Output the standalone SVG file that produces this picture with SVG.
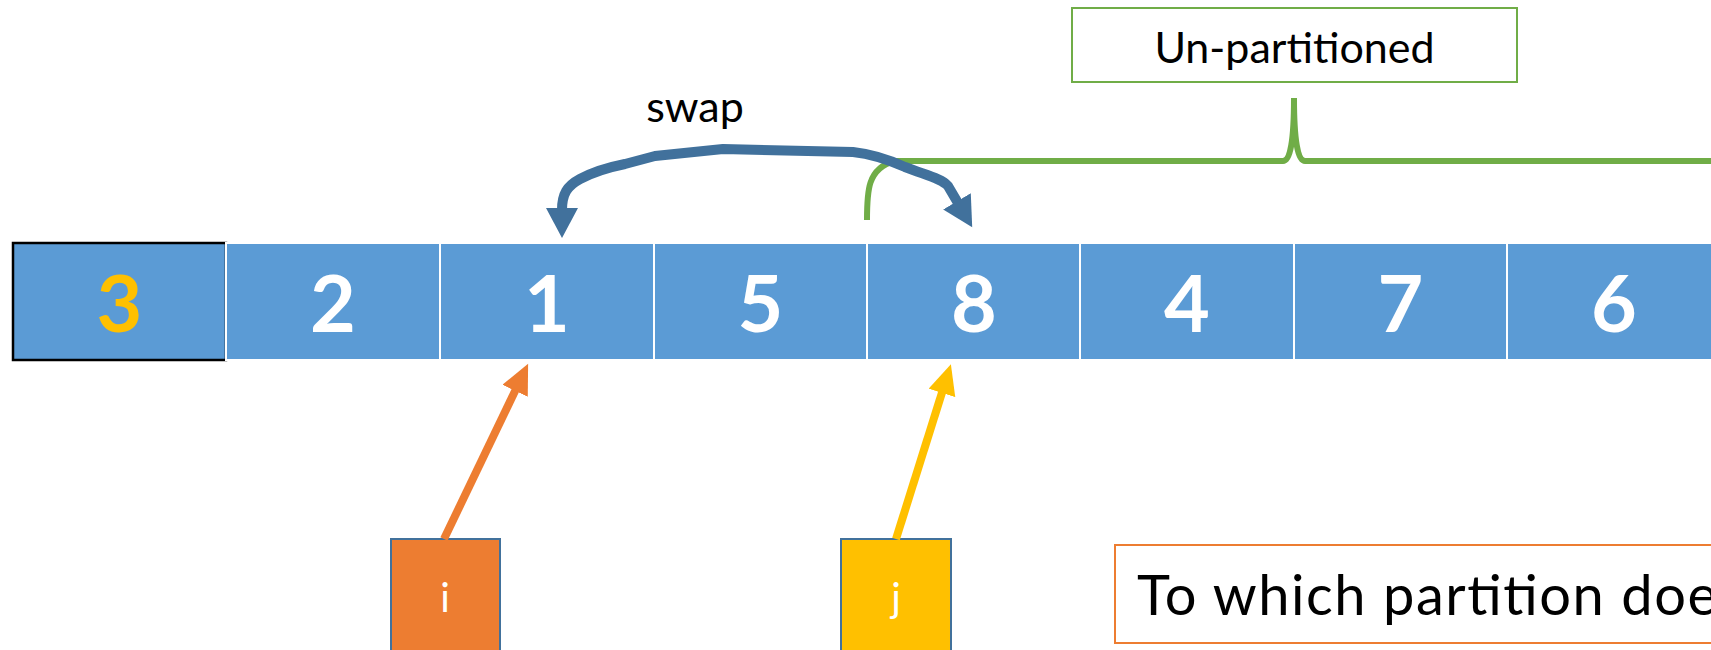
<svg xmlns="http://www.w3.org/2000/svg" width="1711" height="650" viewBox="0 0 1711 650">
<style>
.cell{fill:#5B9BD5;stroke:#FFFFFF;stroke-width:2}
.num{font-family:Lato,"Open Sans","Liberation Sans",sans-serif;font-weight:bold;font-size:79px;fill:#FFFFFF;text-anchor:middle}
.lbl{font-family:Lato,"Liberation Sans",sans-serif;fill:#000000;text-anchor:middle}
.ptr{stroke:#41719C;stroke-width:2}
.ptrtxt{font-family:Lato,"Liberation Sans",sans-serif;font-size:40px;fill:#FFFFFF;text-anchor:middle}
</style>
<defs>
<marker id="headBlue" markerUnits="userSpaceOnUse" markerWidth="32" markerHeight="34" refX="2" refY="16" orient="auto-start-reverse"><path d="M0,0 L30,16 L0,32 z" fill="#41719C"/></marker>
<marker id="headOrange" markerUnits="userSpaceOnUse" markerWidth="32" markerHeight="30" refX="2" refY="14" orient="auto"><path d="M0,0 L30,14 L0,28 z" fill="#ED7D31"/></marker>
<marker id="headYellow" markerUnits="userSpaceOnUse" markerWidth="32" markerHeight="30" refX="2" refY="14" orient="auto"><path d="M0,0 L30,14 L0,28 z" fill="#FFC000"/></marker>
</defs>
<rect width="1711" height="650" fill="#FFFFFF"/>

<g id="array">
<g id="cell-3"><rect x="13" y="243" width="213" height="117" fill="#5B9BD5" stroke="#000000" stroke-width="2.5"/><text class="num" x="119.5" y="332" style="fill:#FFC000">3</text></g>
<g id="cell-2"><rect class="cell" x="226" y="243" width="214" height="117"/><text class="num" x="333" y="332">2</text></g>
<g id="cell-1"><rect class="cell" x="440" y="243" width="214" height="117"/><text class="num" x="547" y="332">1</text></g>
<g id="cell-5"><rect class="cell" x="654" y="243" width="213" height="117"/><text class="num" x="760.5" y="332">5</text></g>
<g id="cell-8"><rect class="cell" x="867" y="243" width="213" height="117"/><text class="num" x="974" y="332">8</text></g>
<g id="cell-4"><rect class="cell" x="1080" y="243" width="214" height="117"/><text class="num" x="1187" y="332">4</text></g>
<g id="cell-7"><rect class="cell" x="1294" y="243" width="213" height="117"/><text class="num" x="1400.5" y="332">7</text></g>
<g id="cell-6"><rect class="cell" x="1507" y="243" width="214" height="117"/><text class="num" x="1614" y="332">6</text></g>
</g>

<g id="unpartitioned-label">
<rect x="1072" y="8" width="445" height="74" fill="#FFFFFF" stroke="#70AD47" stroke-width="2"/>
<text class="lbl" x="1294.5" y="62.5" font-size="43">Un-partitioned</text>
</g>

<g id="swap-label"><text class="lbl" x="695" y="122" font-size="43">swap</text></g>

<g id="i-pointer">
<rect class="ptr" x="391" y="539" width="109" height="120" fill="#ED7D31"/>
<text class="ptrtxt" x="445" y="612">i</text>
</g>
<g id="j-pointer">
<rect class="ptr" x="841" y="539" width="110" height="120" fill="#FFC000"/>
<text class="ptrtxt" x="896" y="612">j</text>
</g>

<g id="question">
<rect x="1115" y="545" width="620" height="98" fill="#FFFFFF" stroke="#ED7D31" stroke-width="2"/>
<text x="1137" y="615" font-family="Lato, 'Liberation Sans', sans-serif" font-size="56" fill="#000000" textLength="580" lengthAdjust="spacing">To which partition doe</text>
</g>

<g id="connectors" fill="none">
<path d="M867,220 C867,192 867,168 895,161 H1283 Q1294,161 1294,98 Q1294,161 1305,161 H1720" stroke="#70AD47" stroke-width="6"/>
<path d="M562,210 C562,194 567,186 580,179 C595,171 610,167 625,164 L655,156 L723,149 L853,152 C872,154 887,159 905,167 C925,175 941,178 948,186 L958,203" stroke="#41719C" stroke-width="10" stroke-linejoin="round" marker-start="url(#headBlue)" marker-end="url(#headBlue)"/>
<line x1="444" y1="539" x2="516" y2="389" stroke="#ED7D31" stroke-width="8" marker-end="url(#headOrange)"/>
<line x1="896" y1="539" x2="942.5" y2="391" stroke="#FFC000" stroke-width="8" marker-end="url(#headYellow)"/>
</g>
</svg>
